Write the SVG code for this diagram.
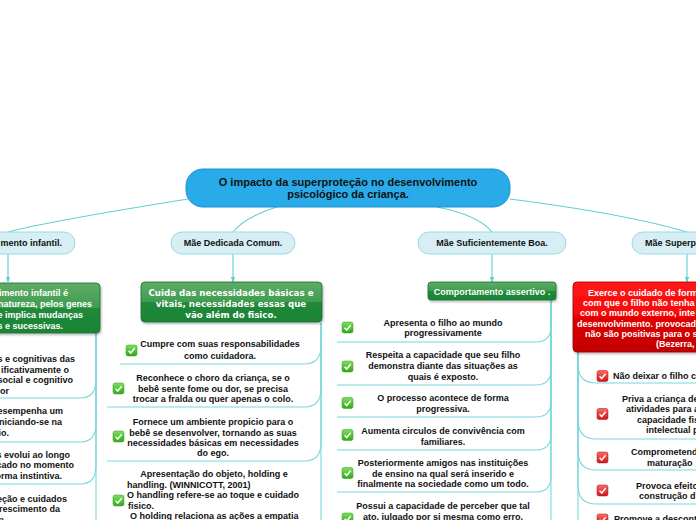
<svg xmlns="http://www.w3.org/2000/svg" width="696" height="520" viewBox="0 0 696 520">
<style>
.t{font-family:"Liberation Sans",Arial,sans-serif;font-weight:bold;font-size:9px;fill:#111}
.w{font-family:"Liberation Sans",Arial,sans-serif;font-weight:bold;font-size:9px;fill:#fff}
.dj{font-family:"DejaVu Sans",Verdana,sans-serif;font-weight:bold;font-size:8.7px;fill:#fff}
.rt{font-family:"Liberation Sans",Arial,sans-serif;font-weight:bold;font-size:11px;fill:#111}
.c{text-anchor:middle}
.e{text-anchor:end}
.pill{fill:#d6eef4;stroke:#9adbe3;stroke-width:1}
.conn{fill:none;stroke:#5fd0d0;stroke-width:1.1}
.ul{fill:none;stroke:#7ad8dc;stroke-width:1.1}
.gbox{fill:url(#gG);stroke:#1a6f2e;stroke-width:0.8}
.rbox{fill:url(#gR);stroke:#990000;stroke-width:0.8}
</style>
<defs>
<linearGradient id="gG" x1="0" y1="0" x2="0" y2="1">
<stop offset="0" stop-color="#5fac67"/><stop offset="0.5" stop-color="#3f9c50"/><stop offset="0.5" stop-color="#21893a"/><stop offset="1" stop-color="#1c8435"/>
</linearGradient>
<linearGradient id="gR" x1="0" y1="0" x2="0" y2="1">
<stop offset="0" stop-color="#ff1a1a"/><stop offset="0.5" stop-color="#f50505"/><stop offset="0.5" stop-color="#e00000"/><stop offset="1" stop-color="#c20000"/>
</linearGradient>
<linearGradient id="gC" x1="0" y1="0" x2="0" y2="1">
<stop offset="0" stop-color="#7ee05a"/><stop offset="1" stop-color="#2fa81c"/>
</linearGradient>
<linearGradient id="gX" x1="0" y1="0" x2="0" y2="1">
<stop offset="0" stop-color="#ff6a6a"/><stop offset="1" stop-color="#d01515"/>
</linearGradient>
<filter id="sh" x="-10%" y="-10%" width="120%" height="130%">
<feDropShadow dx="1" dy="1.5" stdDeviation="1" flood-color="#000" flood-opacity="0.3"/>
</filter>
<g id="chkG"><rect x="0" y="0" width="11" height="11" rx="2" fill="url(#gC)" stroke="#3a9a20" stroke-width="0.5"/><path d="M2.6 5.8 L4.7 8 L8.6 3.2" fill="none" stroke="#fff" stroke-width="1.5"/></g>
<g id="chkR"><rect x="0" y="0" width="11" height="11" rx="2" fill="url(#gX)" stroke="#b01010" stroke-width="0.5"/><path d="M2.6 5.8 L4.7 8 L8.6 3.2" fill="none" stroke="#fff" stroke-width="1.5"/></g>
<marker id="ar" viewBox="0 0 10 10" refX="9" refY="5" markerWidth="5" markerHeight="5" orient="auto">
<path d="M0 1 L10 5 L0 9 z" fill="#5fd0d0"/>
</marker>
</defs>
<rect width="696" height="520" fill="#fff"/>

<g id="connectors">
<path class="conn" d="M188 199 C120 210 45 222 8 232"/>
<path class="conn" d="M277 207 Q245 217 233 232"/>
<path class="conn" d="M437 207 Q478 215 492 232"/>
<path class="conn" d="M510 199 C580 208 640 218 687 232"/>
<path class="conn" d="M8 254 L8 282" marker-end="url(#ar)"/>
<path class="conn" d="M233 254 L233 282" marker-end="url(#ar)"/>
<path class="conn" d="M492 254 L492 282" marker-end="url(#ar)"/>
<path class="conn" d="M687 254 L687 282" marker-end="url(#ar)"/>
<!-- left column -->
<path class="ul" d="M96 333 L96 380 Q96 398 80 398 L0 398"/>
<path class="ul" d="M96 333 L96 424 Q96 442 80 442 L0 442"/>
<path class="ul" d="M96 333 L96 466 Q96 484 80 484 L0 484"/>
<path class="ul" d="M96 333 L96 520"/>
<!-- dedicada column -->
<path class="ul" d="M321 323 L321 346 Q321 364 304 364 L120 364"/>
<path class="ul" d="M321 323 L321 389 Q321 407 304 407 L107 407"/>
<path class="ul" d="M321 323 L321 443 Q321 461 304 461 L107 461"/>
<path class="ul" d="M321 323 L321 520"/>
<!-- suficiente column -->
<path class="ul" d="M551 300 L551 326 Q551 342 536 342 L337 342"/>
<path class="ul" d="M551 300 L551 369 Q551 385 536 385 L337 385"/>
<path class="ul" d="M551 300 L551 401 Q551 417 536 417 L337 417"/>
<path class="ul" d="M551 300 L551 434 Q551 450 536 450 L337 450"/>
<path class="ul" d="M551 300 L551 476 Q551 492 536 492 L337 492"/>
<path class="ul" d="M551 300 L551 520"/>
<!-- superprotetora column -->
<path class="ul" d="M578 352 L578 365 Q578 383 596 383 L696 383"/>
<path class="ul" d="M578 352 L578 420 Q578 439 596 439 L696 439"/>
<path class="ul" d="M578 352 L578 451 Q578 470 596 470 L696 470"/>
<path class="ul" d="M578 352 L578 485 Q578 504 596 504 L696 504"/>
<path class="ul" d="M578 352 L578 520"/>
</g>

<g id="root">
<rect x="186" y="169" width="324" height="38" rx="17" fill="#29aae9" stroke="#1d92d2" stroke-width="1"/>
<text class="rt c" x="348" y="186">O impacto da superproteção no desenvolvimento</text>
<text class="rt c" x="348" y="198">psicológico da criança.</text>
</g>

<g id="n-desenv">
<rect x="-60" y="232" width="135" height="22" rx="11" class="pill"/>
<text class="t e" x="62" y="246">mento infantil.</text>
</g>
<g id="n-dedicada">
<rect x="171" y="232" width="124" height="22" rx="11" class="pill"/>
<text class="t c" x="233" y="246">Mãe Dedicada Comum.</text>
</g>
<g id="n-suficiente">
<rect x="418" y="232" width="148" height="22" rx="11" class="pill"/>
<text class="t c" x="492" y="246">Mãe Suficientemente Boa.</text>
</g>
<g id="n-superprot">
<rect x="632" y="232" width="130" height="22" rx="11" class="pill"/>
<text class="t" x="645" y="246">Mãe Superprotetora.</text>
</g>

<g id="n-desenv-box">
<rect x="-20" y="283" width="120" height="50" rx="4" class="gbox" filter="url(#sh)"/>
<text class="w e" x="68" y="295.5">imento infantil é</text>
<text class="w e" x="92" y="306.5">natureza, pelos genes</text>
<text class="w e" x="83" y="317.5">e implica mudanças</text>
<text class="w e" x="63" y="328.5">s e sucessivas.</text>
</g>
<g id="n-dedicada-box">
<rect x="141" y="282" width="181" height="40" rx="4" class="gbox" filter="url(#sh)"/>
<text class="dj c" x="231" y="296">Cuida das necessidades básicas e</text>
<text class="dj c" x="231" y="307">vitais, necessidades essas que</text>
<text class="dj c" x="231" y="318">vão além do fisico.</text>
</g>
<g id="n-suf-box">
<rect x="428" y="282" width="128" height="18" rx="3" class="gbox" filter="url(#sh)"/>
<text class="w c" x="492" y="294.5">Comportamento assertivo .</text>
</g>
<g id="n-sup-box">
<rect x="573" y="282" width="140" height="70" rx="4" class="rbox" filter="url(#sh)"/>
<text class="w" x="588" y="295.5">Exerce o cuidado de forma</text>
<text class="w" x="583" y="305.5">com que o filho não tenha</text>
<text class="w" x="580" y="316">com o mundo externo, inte</text>
<text class="w" x="577" y="326.5">desenvolvimento. provocad</text>
<text class="w" x="585" y="336.5">não são positivas para o s</text>
<text class="w" x="656" y="347">(Bezerra,</text>
</g>

<g id="n-desenv-items">
<text class="t e" x="75" y="361.5">s e cognitivas das</text>
<text class="t e" x="69" y="372.5">ificativamente o</text>
<text class="t e" x="73" y="383">social e cognitivo</text>
<text class="t e" x="9" y="394">or</text>
<text class="t e" x="63" y="414">esempenha um</text>
<text class="t e" x="62" y="425">iniciando-se na</text>
<text class="t e" x="9" y="436">io.</text>
<text class="t e" x="70" y="457.5">s evolui ao longo</text>
<text class="t e" x="74" y="468">cado no momento</text>
<text class="t e" x="62" y="478.5">orma instintiva.</text>
<text class="t e" x="67" y="501.5">eção e cuidados</text>
<text class="t e" x="60" y="512">rescimento da</text>
<text class="t e" x="4" y="522.5">a</text>
</g>

<g id="n-ded-1">
<use href="#chkG" x="126" y="345"/>
<text class="t c" x="220" y="347">Cumpre com suas responsabilidades</text>
<text class="t c" x="220" y="359">como cuidadora.</text>
</g>
<g id="n-ded-2">
<use href="#chkG" x="113" y="383"/>
<text class="t c" x="213" y="380.5">Reconhece o choro da criança, se o</text>
<text class="t c" x="213" y="391.5">bebê sente fome ou dor, se precisa</text>
<text class="t c" x="213" y="401.5">trocar a fralda ou quer apenas o colo.</text>
</g>
<g id="n-ded-3">
<use href="#chkG" x="113" y="431"/>
<text class="t c" x="213" y="425">Fornece um ambiente propicio para o</text>
<text class="t c" x="213" y="435.5">bebê se desenvolver, tornando as suas</text>
<text class="t c" x="213" y="446">necessidades básicas em necessidades</text>
<text class="t c" x="213" y="456">do ego.</text>
</g>
<g id="n-ded-4">
<use href="#chkG" x="113" y="495"/>
<text class="t c" x="214" y="477">Apresentação do objeto, holding e</text>
<text class="t" x="127" y="487.5">handling. (WINNICOTT, 2001)</text>
<text class="t" x="127" y="498">O handling refere-se ao toque e cuidado</text>
<text class="t" x="128" y="508.5">fisico.</text>
<text class="t" x="130" y="519">O holding relaciona as ações a empatia</text>
</g>

<g id="n-suf-1">
<use href="#chkG" x="342" y="322"/>
<text class="t c" x="443" y="326">Apresenta o filho ao mundo</text>
<text class="t c" x="443" y="336">progressivamente</text>
</g>
<g id="n-suf-2">
<use href="#chkG" x="342" y="361"/>
<text class="t c" x="443" y="358">Respeita a capacidade que seu filho</text>
<text class="t c" x="443" y="369">demonstra diante das situações as</text>
<text class="t c" x="443" y="379.5">quais é exposto.</text>
</g>
<g id="n-suf-3">
<use href="#chkG" x="342" y="397.5"/>
<text class="t c" x="443" y="401">O processo acontece de forma</text>
<text class="t c" x="443" y="411.5">progressiva.</text>
</g>
<g id="n-suf-4">
<use href="#chkG" x="342" y="429.5"/>
<text class="t c" x="443" y="434">Aumenta circulos de convivência com</text>
<text class="t c" x="443" y="444.5">familiares.</text>
</g>
<g id="n-suf-5">
<use href="#chkG" x="342" y="467.5"/>
<text class="t c" x="443" y="466">Posteriormente amigos nas instituições</text>
<text class="t c" x="443" y="476.5">de ensino na qual será inserido e</text>
<text class="t c" x="443" y="486.5">finalmente na sociedade como um todo.</text>
</g>
<g id="n-suf-6">
<use href="#chkG" x="342" y="513"/>
<text class="t c" x="443" y="509">Possui a capacidade de perceber que tal</text>
<text class="t c" x="443" y="519.5">ato, julgado por si mesma como erro,</text>
</g>

<g id="n-sup-1">
<use href="#chkR" x="597" y="370.5"/>
<text class="t" x="613" y="379">Não deixar o filho c</text>
</g>
<g id="n-sup-2">
<use href="#chkR" x="597" y="408.5"/>
<text class="t" x="622" y="401.5">Priva a criança de</text>
<text class="t" x="626" y="412">atividades para a</text>
<text class="t" x="637" y="422.5">capacidade fis</text>
<text class="t" x="646" y="433">intelectual p</text>
</g>
<g id="n-sup-3">
<use href="#chkR" x="597" y="452"/>
<text class="t" x="631" y="455">Comprometend</text>
<text class="t" x="647" y="465.5">maturação</text>
</g>
<g id="n-sup-4">
<use href="#chkR" x="597" y="485"/>
<text class="t" x="636" y="488.5">Provoca efeito</text>
<text class="t" x="639" y="498.5">construção d</text>
</g>
<g id="n-sup-5">
<use href="#chkR" x="597" y="514"/>
<text class="t" x="614" y="522">Promove a descont</text>
</g>
</svg>
